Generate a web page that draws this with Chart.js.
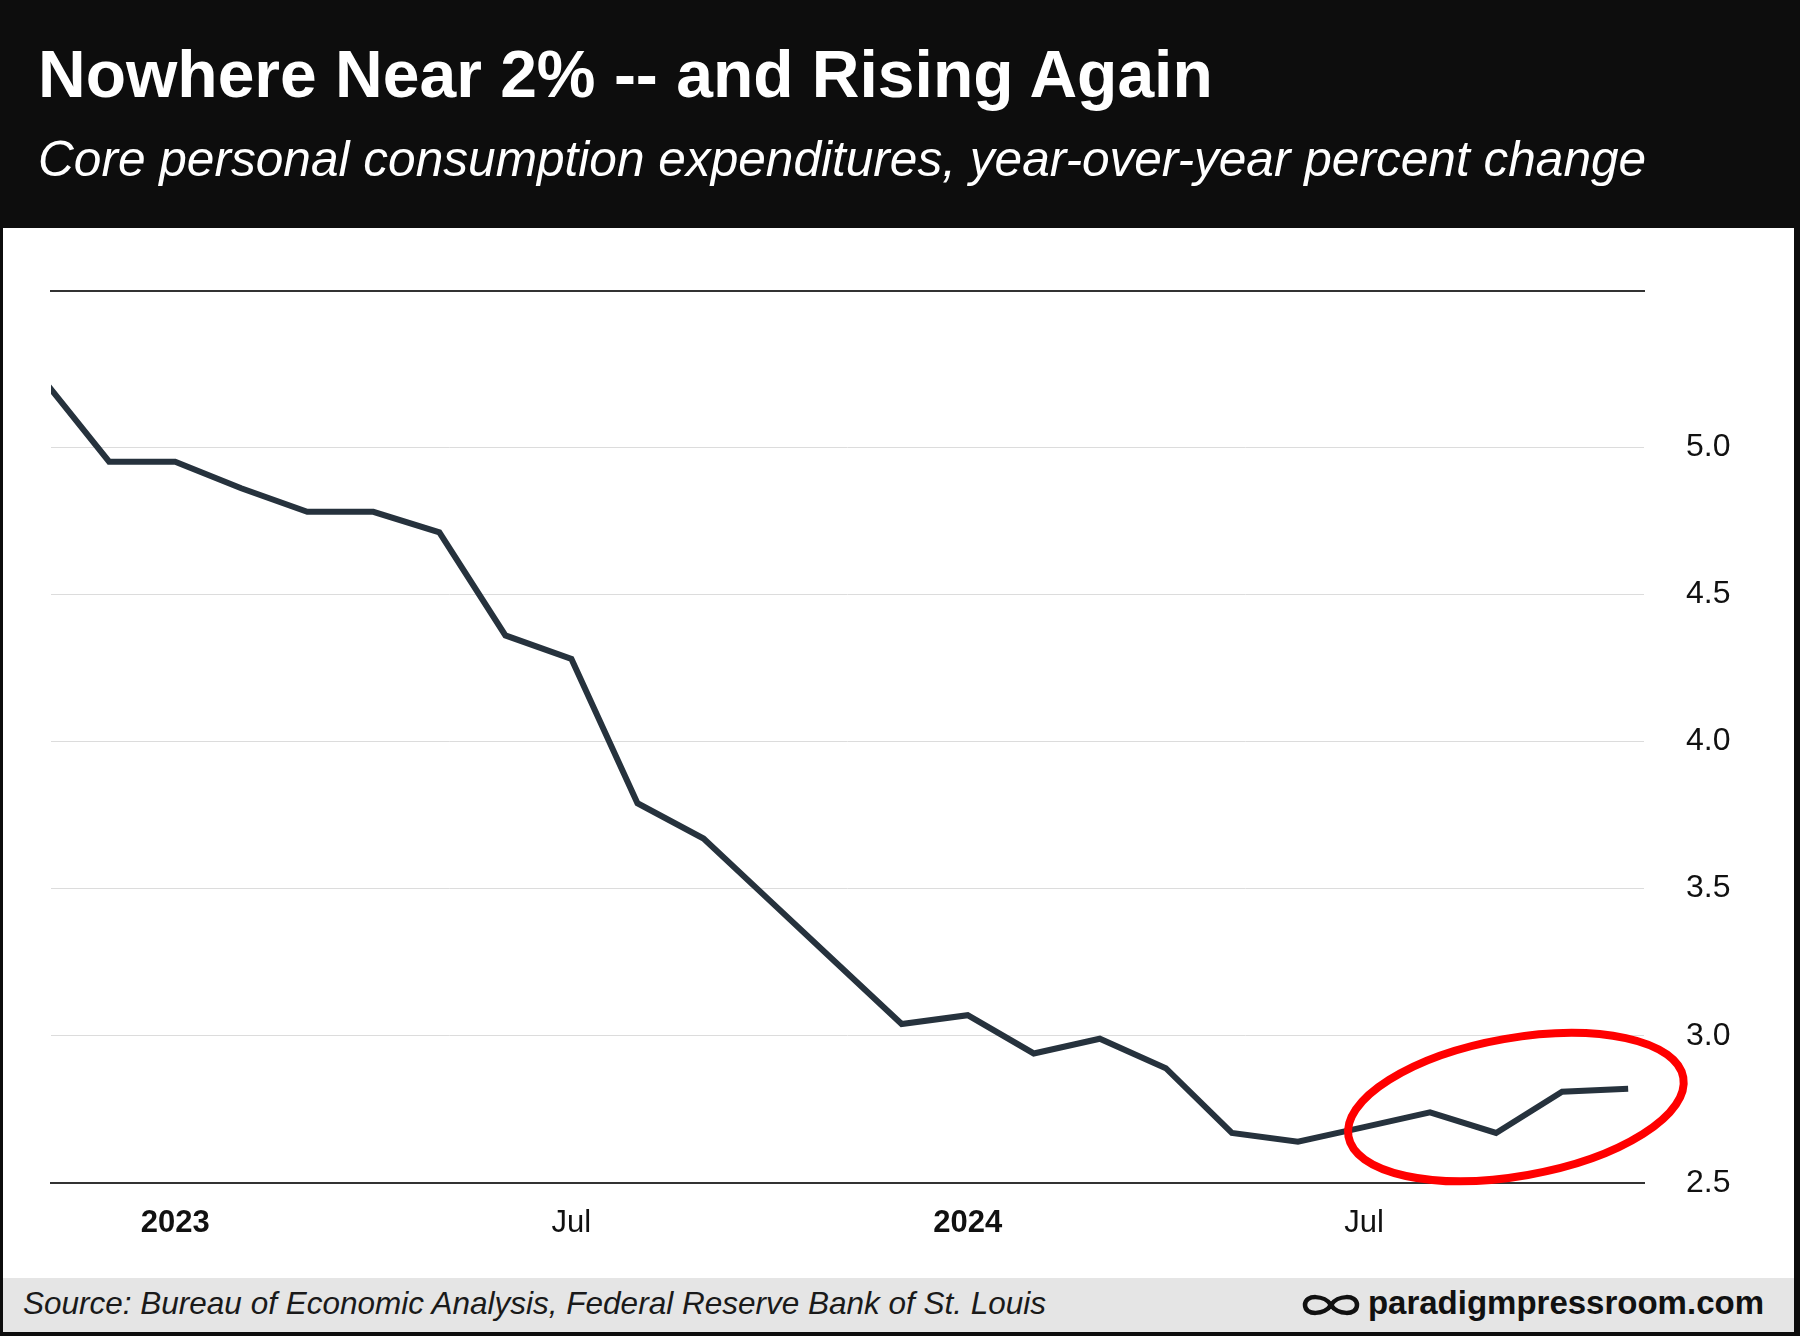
<!DOCTYPE html>
<html>
<head>
<meta charset="utf-8">
<script src="https://cdn.jsdelivr.net/npm/chart.js@4.4.1/dist/chart.umd.min.js"></script>
<style>
  html, body { margin: 0; padding: 0; }
  body { width: 1800px; height: 1336px; background: #0d0d0d; position: relative; overflow: hidden;
         font-family: 'Liberation Sans', Arial, Helvetica, sans-serif; }
  #title { position: absolute; left: 38px; top: 41px; font-size: 66px; line-height: 66px; font-weight: bold;
           color: #fff; white-space: nowrap; }
  #subtitle { position: absolute; left: 38px; top: 135px; font-size: 49.6px; line-height: 49px; font-style: italic;
              color: #fff; white-space: nowrap; }
  #panel { position: absolute; left: 3px; top: 228px; width: 1791px; height: 1050px; background: #fff; }
  #chartBox { position: absolute; left: 0; top: 228px; width: 1800px; height: 1050px; }
  #footer { position: absolute; left: 3px; top: 1278px; width: 1791px; height: 54px; background: #e5e5e5; }
  #source { position: absolute; left: 23px; top: 1288px; font-size: 31.5px; line-height: 31px; font-style: italic;
            color: #1a1a1a; white-space: nowrap; }
  #logo { position: absolute; right: 36px; top: 1287px; font-size: 33px; line-height: 32px; font-weight: bold;
          color: #111; white-space: nowrap; }
  #infinity { position: absolute; left: 1302px; top: 1292px; }
</style>
</head>
<body>
<div id="title">Nowhere Near 2% -- and Rising Again</div>
<div id="subtitle">Core personal consumption expenditures, year-over-year percent change</div>
<div id="panel"></div>
<div id="chartBox"><canvas id="myChart"></canvas></div>
<div id="footer"></div>
<div id="source">Source: Bureau of Economic Analysis, Federal Reserve Bank of St. Louis</div>
<svg id="infinity" width="58" height="26" viewBox="0 0 58 26">
  <path d="M29 13 C23 3, 3 2, 3 13 C3 24, 23 23, 29 13 C35 3, 55 2, 55 13 C55 24, 35 23, 29 13 Z"
        fill="none" stroke="#111" stroke-width="4.5"/>
</svg>
<div id="logo">paradigmpressroom.com</div>

<script>
// months from Nov 2022 to Nov 2024
const months = ['Nov 2022', 'Dec 2022', 'Jan 2023', 'Feb 2023', 'Mar 2023', 'Apr 2023', 'May 2023',
  'Jun 2023', 'Jul 2023', 'Aug 2023', 'Sep 2023', 'Oct 2023', 'Nov 2023', 'Dec 2023', 'Jan 2024',
  'Feb 2024', 'Mar 2024', 'Apr 2024', 'May 2024', 'Jun 2024', 'Jul 2024', 'Aug 2024', 'Sep 2024',
  'Oct 2024', 'Nov 2024'];
const corePce = [5.23, 4.95, 4.95, 4.86, 4.78, 4.78, 4.71, 4.36, 4.28, 3.79, 3.67, 3.46, 3.25, 3.04,
  3.07, 2.94, 2.99, 2.89, 2.67, 2.64, 2.69, 2.74, 2.67, 2.81, 2.82];

const xTickMonths = ['Jan 2023', 'Jul 2023', 'Jan 2024', 'Jul 2024'];
const xTickLabels = ['2023', 'Jul', '2024', 'Jul'];
const yTicks = [2.5, 3.0, 3.5, 4.0, 4.5, 5.0];

// red ring around the recent uptick, centred in data terms
const ringCenter = { month: 22.3, value: 2.758 };

const points = months.map((m, i) => ({ x: i, y: corePce[i] }));
const xTickValues = xTickMonths.map(m => months.indexOf(m));

const ringPlugin = {
  id: 'ring',
  afterDatasetsDraw(chart) {
    const c = chart.ctx;
    const cx = chart.scales.x.getPixelForValue(ringCenter.month);
    const cy = chart.scales.y.getPixelForValue(ringCenter.value);
    c.save();
    c.beginPath();
    c.ellipse(cx, cy, 170, 69, -10 * Math.PI / 180, 0, Math.PI * 2);
    c.strokeStyle = '#ff0000';
    c.lineWidth = 8;
    c.stroke();
    c.restore();
  }
};

Chart.defaults.font.family = "'Liberation Sans', Arial, Helvetica, sans-serif";
Chart.defaults.color = '#111';

const ctx = document.getElementById('myChart').getContext('2d');

new Chart(ctx, {
  type: 'line',
  data: {
    datasets: [{
      label: 'Core PCE, y/y %',
      data: points,
      borderColor: '#26323d',
      borderWidth: 6,
      borderJoinStyle: 'miter',
      borderCapStyle: 'butt',
      pointRadius: 0,
      tension: 0,
      fill: false,
      clip: 0
    }]
  },
  options: {
    responsive: true,
    maintainAspectRatio: false,
    animation: false,
    layout: { padding: { left: 51, top: 63, right: 56, bottom: 35 } },
    plugins: {
      legend: { display: false },
      tooltip: { enabled: false }
    },
    scales: {
      x: {
        type: 'linear',
        position: 'bottom',
        min: 0.12,
        max: 24.24,
        afterBuildTicks: (s) => { s.ticks = xTickValues.map(v => ({ value: v })); },
        afterFit: (s) => { s.height = 60; },
        grid: { display: false, drawTicks: false },
        border: { display: true, color: '#333', width: 2 },
        ticks: {
          padding: 22,
          maxRotation: 0,
          autoSkip: false,
          color: '#111',
          font: (c) => ({ size: 31, weight: (c.tick && /^\d{4}$/.test(xTickLabels[xTickValues.indexOf(c.tick.value)])) ? 'bold' : 'normal' }),
          callback: (v) => xTickLabels[xTickValues.indexOf(v)]
        }
      },
      xTop: {
        type: 'linear',
        position: 'top',
        min: 0.12,
        max: 24.24,
        afterFit: (s) => { s.height = 0; },
        grid: { display: false, drawTicks: false },
        border: { display: true, color: '#333', width: 2 },
        ticks: { display: false }
      },
      y: {
        position: 'right',
        min: 2.5,
        max: 5.53,
        afterBuildTicks: (s) => { s.ticks = yTicks.map(v => ({ value: v })); },
        afterFit: (s) => { s.width = 100; },
        grid: { color: '#dcdcdc', lineWidth: 1, drawTicks: false },
        border: { display: false },
        ticks: {
          padding: 42,
          color: '#111',
          font: { size: 32 },
          callback: (v) => v.toFixed(1)
        }
      }
    }
  },
  plugins: [ringPlugin]
});
</script>
</body>
</html>
